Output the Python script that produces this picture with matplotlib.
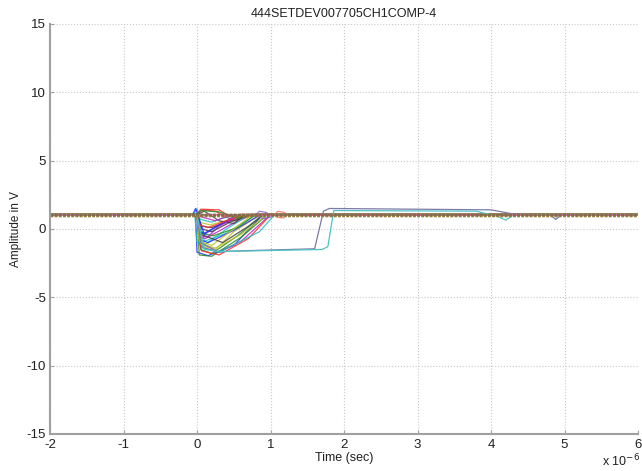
import matplotlib
matplotlib.use("Agg")
import matplotlib.pyplot as plt

plt.rcParams['font.family'] = ['Liberation Sans', 'DejaVu Sans']
plt.rcParams['axes.unicode_minus'] = False

# Waveforms: time in microseconds, amplitude in V (breakpoints)
colors = ['#2b2bff', '#1f8f1f', '#ff2b2b', '#1fbfbf', '#bf1fbf', '#bfbf1f', '#404040']

trace_t = [
    [-2, -0.02, 0.0, 0.15, 0.5, 0.9, 6],
    [-2, 0.0, 0.03, 0.2, 0.6, 0.95, 6],
    [-2, 0.0, 0.05, 0.3, 0.45, 0.6, 6],
    [-2, -0.05, 0.0, 0.1, 0.4, 0.8, 6],
    [-2, 0.0, 0.05, 0.15, 0.45, 0.75, 6],
    [-2, 0.0, 0.04, 0.25, 0.5, 0.85, 6],
    [-2, 0.0, 0.06, 0.2, 0.5, 0.7, 6],
    [-2, 0.0, 0.02, 0.1, 0.35, 0.65, 6],
    [-2, 0.0, 0.05, 0.2, 0.55, 0.9, 6],
    [-2, 0.0, 0.08, 0.25, 0.5, 0.8, 6],
    [-2, -0.03, 0.0, 0.12, 0.4, 0.7, 6],
    [-2, 0.0, 0.05, 0.3, 0.6, 1.0, 6],
    [-2, 0.0, 0.03, 0.18, 0.45, 0.75, 6],
    [-2, 0.0, 0.1, 0.3, 0.5, 0.65, 6],
    [-2, 0.0, 0.05, 0.15, 0.5, 0.85, 6],
    [-2, 0.0, 0.04, 0.22, 0.55, 0.8, 6],
    [-2, 0.0, 0.06, 0.3, 0.7, 1.0, 6],
    [-2, 0.0, 0.05, 0.2, 0.35, 0.55, 6],
    [-2, 0.0, 0.03, 0.12, 0.3, 0.6, 6],
    [-2, 0.0, 0.05, 0.25, 0.6, 0.95, 6],
    [-2, 0.0, 0.07, 0.2, 0.45, 0.7, 6],
    [-2, -0.06, -0.02, 0.1, 0.3, 0.55, 6],
    [-2, 0.0, 0.05, 0.3, 0.55, 0.75, 6],
    [-2, 0.0, 0.04, 0.15, 0.4, 0.6, 6],
    [-2, 0.0, 0.08, 0.3, 0.85, 1.05, 6],
    [-2, 0.0, 0.05, 0.25, 0.4, 0.55, 6],
    [-2, 0.0, 0.03, 0.2, 0.5, 0.75, 6],
    [-2, 0.0, 0.06, 0.35, 0.7, 0.9, 6],
]
trace_v = [
    [1.05, 1.05, -1.7, -1.95, -1.2, 1.05, 1.05],
    [1.00, 1.00, -1.9, -2.0, -0.6, 1.00, 1.00],
    [1.08, 1.08, 1.45, 1.40, 0.90, 1.08, 1.08],
    [1.02, 1.02, 1.50, -0.9, -0.3, 1.02, 1.02],
    [1.04, 1.04, -0.5, -0.6, 0.30, 1.04, 1.04],
    [1.00, 1.00, -1.2, -1.5, -0.2, 1.00, 1.00],
    [1.06, 1.06, 0.20, 0.10, 0.70, 1.06, 1.06],
    [1.03, 1.03, -0.2, -0.3, 0.40, 1.03, 1.03],
    [1.01, 1.01, -1.5, -1.8, -0.5, 1.01, 1.01],
    [1.07, 1.07, 1.40, 1.30, 0.60, 1.07, 1.07],
    [1.00, 1.00, -1.0, -1.1, 0.00, 1.00, 1.00],
    [1.05, 1.05, -1.3, -1.7, -0.9, 1.05, 1.05],
    [1.02, 1.02, 0.50, 0.30, 0.70, 1.02, 1.02],
    [1.04, 1.04, 1.30, 0.60, 0.40, 1.04, 1.04],
    [1.00, 1.00, -0.8, -1.0, -0.1, 1.00, 1.00],
    [1.06, 1.06, -0.3, -0.5, 0.10, 1.06, 1.06],
    [1.03, 1.03, -1.6, -1.9, -0.7, 1.03, 1.03],
    [1.01, 1.01, 0.70, 0.50, 0.80, 1.01, 1.01],
    [1.05, 1.05, -0.6, -0.7, 0.20, 1.05, 1.05],
    [1.02, 1.02, -1.1, -1.4, -0.4, 1.02, 1.02],
    [1.00, 1.00, 0.00, -0.2, 0.50, 1.00, 1.00],
    [1.04, 1.04, 1.50, -0.4, 0.30, 1.04, 1.04],
    [1.07, 1.07, 1.35, 1.25, 0.80, 1.07, 1.07],
    [1.03, 1.03, 0.30, 0.10, 0.60, 1.03, 1.03],
    [1.01, 1.01, -1.4, -1.7, -0.2, 1.01, 1.01],
    [1.05, 1.05, 0.90, 0.60, 0.90, 1.05, 1.05],
    [1.02, 1.02, -0.9, -1.2, 0.00, 1.02, 1.02],
    [1.06, 1.06, -0.4, -1.0, 0.20, 1.06, 1.06],
]

# long-duration events
long_t = [
    [-2, 0.0, 0.05, 0.3, 0.45, 1.6, 1.72, 1.8, 4.0, 4.35, 4.5, 4.8, 4.88, 4.96, 6],
    [-2, 0.0, 0.1, 0.3, 1.7, 1.78, 1.86, 3.8, 4.1, 4.2, 4.3, 6],
]
long_v = [
    [1.05, 1.05, -1.0, -1.7, -1.62, -1.45, 1.30, 1.50, 1.40, 1.05, 1.05, 1.05, 0.70, 1.05, 1.05],
    [1.00, 1.00, -1.5, -1.65, -1.50, -1.30, 1.35, 1.30, 0.90, 0.65, 1.00, 1.00],
]
long_colors = ['#7a7aa8', '#4fc3c3']

# small ringing loops after recovery
ring_t = [
    [-2, 0.8, 0.85, 0.95, 1.0, 0.9, 0.82, 6],
    [-2, 1.05, 1.1, 1.2, 1.18, 1.1, 1.06, 6],
]
ring_v = [
    [1.05, 1.05, 1.30, 1.20, 0.85, 0.75, 1.00, 1.05],
    [1.02, 1.02, 1.30, 1.20, 0.80, 0.85, 1.02, 1.02],
]
ring_colors = ['#8f5fcf', '#ff6f6f']

fig = plt.figure(figsize=(6.42, 4.71), dpi=100)
ax = fig.add_axes([0.0779, 0.0786, 0.9159, 0.8705])

for i, (t, v) in enumerate(zip(trace_t, trace_v)):
    ax.plot(t, v, color=colors[i % len(colors)], lw=0.9, alpha=0.85)
for t, v, c in zip(long_t, long_v, long_colors):
    ax.plot(t, v, color=c, lw=0.9)
for t, v, c in zip(ring_t, ring_v, ring_colors):
    ax.plot(t, v, color=c, lw=0.9, alpha=0.85)

# noisy baseline band
baseline_levels = [0.95, 0.98, 1.0, 1.03, 1.06, 1.09, 1.12]
baseline_colors = ['#8b6b3a', '#9c8a3c', '#a0522d', '#7a6a4a', '#b09040', '#8a5a5a', '#6b7b4b']
for lv, c in zip(baseline_levels, baseline_colors):
    ax.plot([-2, 6], [lv, lv], color=c, lw=1.0, ls=(0, (2, 1)), alpha=0.8)

ax.set_xlim(-2, 6)
ax.set_ylim(-15, 15)
ax.set_xticks([-2, -1, 0, 1, 2, 3, 4, 5, 6])
ax.set_yticks([-15, -10, -5, 0, 5, 10, 15])
ax.grid(True, color='#c8c8c8', ls=':', lw=0.8)
for s in ['top', 'right']:
    ax.spines[s].set_visible(False)
for s in ['left', 'bottom']:
    ax.spines[s].set_color('#a0a0a0')
    ax.spines[s].set_linewidth(1.5)
ax.tick_params(direction='in', length=3, color='#a0a0a0', labelsize=9.5,
               labelcolor='#202020')
ax.tick_params(axis='x', pad=3.5)
ax.tick_params(axis='y', pad=3)

ax.set_title('444SETDEV007705CH1COMP-4', fontsize=9, pad=5, color='#202020')
ax.set_xlabel('Time (sec)', fontsize=9, labelpad=1, color='#202020')
ax.set_ylabel('Amplitude in V', fontsize=8.5, labelpad=3, color='#202020')
fig.text(0.997, 0.003, r'x 10$^{-6}$', ha='right', va='bottom', fontsize=9, color='#202020')

fig.savefig('out.png', dpi=100)
